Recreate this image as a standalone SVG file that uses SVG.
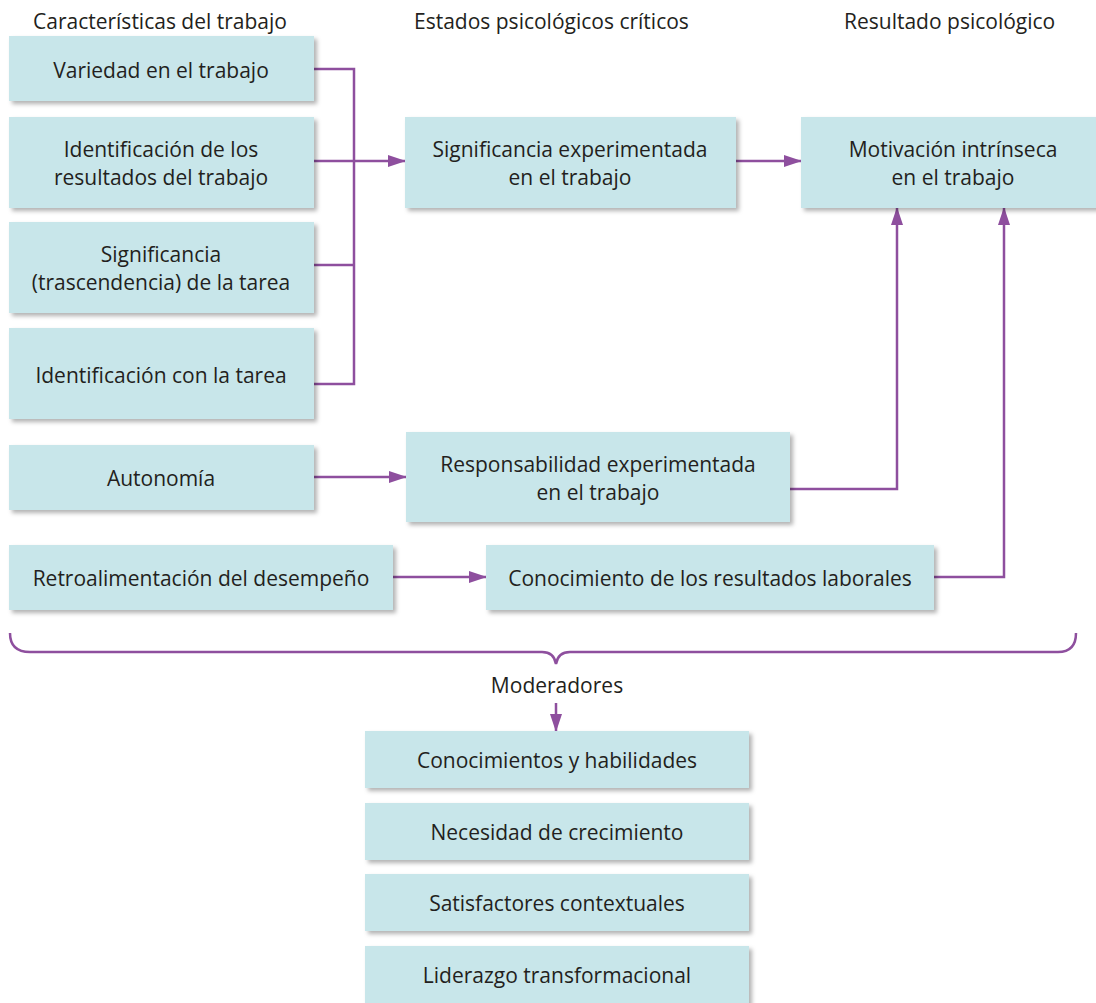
<svg xmlns="http://www.w3.org/2000/svg" width="1096" height="1003" viewBox="0 0 1096 1003">
<style>
.box{fill:#c8e6ea;filter:url(#sh)}
text{font-family:"Open Sans","Liberation Sans",sans-serif;font-size:21px;fill:#231f20;text-anchor:middle;dominant-baseline:central}
.hdr{text-anchor:start}
.ln{fill:none;stroke:#8e4f9e;stroke-width:2.5}
.ar{fill:none;stroke:#8e4f9e;stroke-width:2.5;marker-end:url(#ah)}
</style>
<defs>
<filter id="sh" x="-5%" y="-10%" width="115%" height="130%">
<feDropShadow dx="3" dy="3" stdDeviation="2" flood-color="#000" flood-opacity="0.3"/>
</filter>
<marker id="ah" viewBox="0 0 18 12" refX="17" refY="6" markerWidth="18" markerHeight="12" markerUnits="userSpaceOnUse" orient="auto">
<path d="M0,0 L18,6 L0,12 z" fill="#8e4f9e"/>
</marker>
</defs>
<rect width="1096" height="1003" fill="#fff"/>
<g id="headers">
<text class="hdr" x="33" y="21">Características del trabajo</text>
<text class="hdr" x="414" y="21">Estados psicológicos críticos</text>
<text class="hdr" x="844" y="21">Resultado psicológico</text>
</g>
<g id="connectors">
<polyline class="ln" points="314,69 354,69 354,384 314,384"/>
<line class="ln" x1="314" y1="265" x2="354" y2="265"/>
<line class="ln" x1="314" y1="161" x2="354" y2="161"/>
<line class="ar" x1="354" y1="161" x2="405" y2="161"/>
<line class="ar" x1="736" y1="161" x2="801" y2="161"/>
<line class="ar" x1="314" y1="477" x2="406" y2="477"/>
<polyline class="ar" points="790,489 897,489 897,208"/>
<line class="ar" x1="393" y1="577" x2="486" y2="577"/>
<polyline class="ar" points="934,577 1004,577 1004,208"/>
<path class="ln" d="M10,633 Q10,652 30,652 L542,652 Q554,652 556,664 Q558,652 570,652 L1058,652 Q1076,652 1076,633"/>
<line class="ar" x1="556" y1="703" x2="556" y2="731"/>
</g>
<g id="n1"><rect class="box" x="9" y="36" width="305" height="65"/><text x="161" y="70">Variedad en el trabajo</text></g>
<g id="n2"><rect class="box" x="9" y="117" width="305" height="91"/><text x="161" y="149">Identificación de los</text><text x="161" y="177">resultados del trabajo</text></g>
<g id="n3"><rect class="box" x="9" y="222" width="305" height="91"/><text x="161" y="254">Significancia</text><text x="161" y="282">(trascendencia) de la tarea</text></g>
<g id="n4"><rect class="box" x="9" y="328" width="305" height="91"/><text x="161" y="375">Identificación con la tarea</text></g>
<g id="n5"><rect class="box" x="9" y="445" width="305" height="65"/><text x="161" y="478">Autonomía</text></g>
<g id="n6"><rect class="box" x="9" y="545" width="384" height="65"/><text x="201" y="578">Retroalimentación del desempeño</text></g>
<g id="n7"><rect class="box" x="405" y="117" width="331" height="91"/><text x="570" y="149">Significancia experimentada</text><text x="570" y="177">en el trabajo</text></g>
<g id="n8"><rect class="box" x="406" y="432" width="384" height="90"/><text x="598" y="464">Responsabilidad experimentada</text><text x="598" y="492">en el trabajo</text></g>
<g id="n9"><rect class="box" x="486" y="545" width="448" height="65"/><text x="710" y="578">Conocimiento de los resultados laborales</text></g>
<g id="n10"><rect class="box" x="801" y="117" width="300" height="91"/><text x="953" y="149">Motivación intrínseca</text><text x="953" y="177">en el trabajo</text></g>
<g id="n11"><text x="557" y="685">Moderadores</text></g>
<g id="n12"><rect class="box" x="365" y="731" width="384" height="57"/><text x="557" y="760">Conocimientos y habilidades</text></g>
<g id="n13"><rect class="box" x="365" y="803" width="384" height="57"/><text x="557" y="832">Necesidad de crecimiento</text></g>
<g id="n14"><rect class="box" x="365" y="874" width="384" height="57"/><text x="557" y="903">Satisfactores contextuales</text></g>
<g id="n15"><rect class="box" x="365" y="946" width="384" height="60"/><text x="557" y="975">Liderazgo transformacional</text></g>
</svg>
